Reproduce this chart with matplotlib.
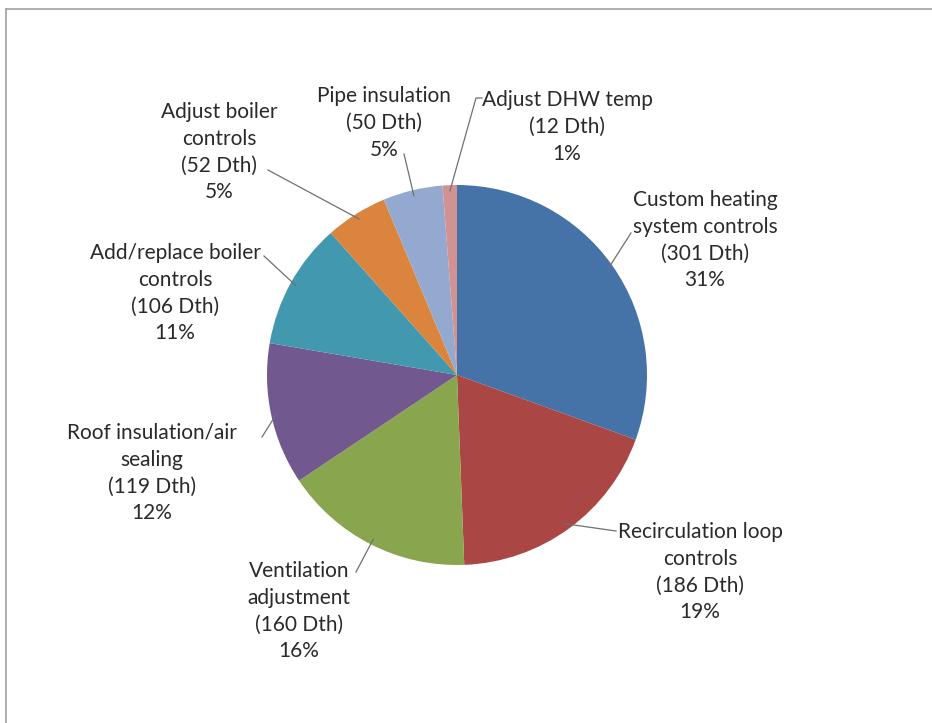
import matplotlib
matplotlib.use("Agg")
import matplotlib.pyplot as plt
import numpy as np

categories = ["Custom heating\nsystem controls", "Recirculation loop\ncontrols",
              "Ventilation\nadjustment", "Roof insulation/air\nsealing",
              "Add/replace boiler\ncontrols", "Adjust boiler\ncontrols",
              "Pipe insulation", "Adjust DHW temp"]
values = [301, 186, 160, 119, 106, 52, 50, 12]
percents = [31, 19, 16, 12, 11, 5, 5, 1]
colors = ["#4572A7", "#AA4643", "#89A54E", "#71588F", "#4198AF", "#DB843D", "#93A9CF", "#D19392"]

# label centre positions (pixels) and leader end points (pixels)
label_px = [(705, 240), (700, 572), (299, 611), (152, 473), (175, 293), (219, 152), (384, 123), (567, 127)]
leader_end_px = [(631, 233), (616, 531), (356, 572), (262, 437), (264, 256), (268, 170), (404, 154), (476, 98)]

W, H = 932, 723
cx, cy, R = 457, 375, 190

fig = plt.figure(figsize=(W / 100, H / 100), dpi=100)
fig.patch.set_facecolor("white")

# frame lines
fig.add_artist(plt.Line2D([6 / W, 1], [1 - 9 / H, 1 - 9 / H], color="#a0a0a0", lw=1.2))
fig.add_artist(plt.Line2D([6 / W, 6 / W], [0, 1 - 9 / H], color="#a0a0a0", lw=1.2))

ax = fig.add_axes([(cx - R) / W, (H - cy - R) / H, 2 * R / W, 2 * R / H])
wedges, _ = ax.pie(values, colors=colors, startangle=90, counterclock=False, radius=1,
                   wedgeprops=dict(linewidth=0))
ax.set_xlim(-1, 1)
ax.set_ylim(-1, 1)
ax.set_aspect("equal")
ax.axis("off")

def to_data(px, py):
    return (px - cx) / R, (cy - py) / R

for i, (w, cat, v, p, lp, le) in enumerate(zip(wedges, categories, values, percents, label_px, leader_end_px)):
    ang = np.deg2rad((w.theta1 + w.theta2) / 2)
    sx, sy = 0.97 * np.cos(ang), 0.97 * np.sin(ang)
    ex, ey = to_data(*le)
    xs, ys = [sx, ex], [sy, ey]
    if i == 7:
        hx, hy = to_data(le[0] + 6, le[1])
        xs.append(hx)
        ys.append(hy)
    ax.plot(xs, ys, color="#707070", lw=0.9, clip_on=False)
    tx, ty = to_data(*lp)
    ax.text(tx, ty, f"{cat}\n({v} Dth)\n{p}%", ha="center", va="center",
            fontsize=15, family="Lato", color="#2a2a2a", linespacing=1.42,
            clip_on=False)

fig.savefig("out.png", dpi=100, facecolor="white")
